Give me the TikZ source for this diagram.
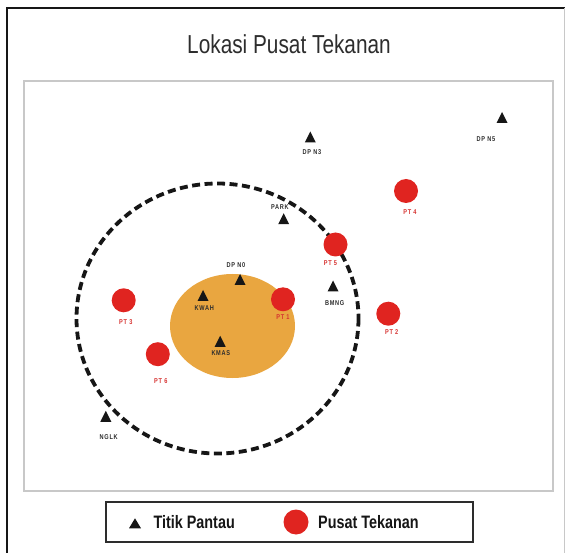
\documentclass[tikz,border=0pt]{standalone}
\usepackage{fontspec}
\setmainfont{Liberation Sans}
\newfontfamily\titlefont[FakeStretch=0.8]{Liberation Sans}
\newfontfamily\lblfont[FakeStretch=0.8,LetterSpace=10]{Liberation Sans}
\newfontfamily\legfont[FakeStretch=0.8]{Liberation Sans}
\definecolor{ptred}{RGB}{224,36,32}
\definecolor{zoneor}{RGB}{233,166,64}
\definecolor{tricol}{RGB}{22,22,22}
\definecolor{lblgray}{RGB}{45,45,45}
\definecolor{lblred}{RGB}{214,50,48}
\definecolor{framegray}{RGB}{200,200,200}
\begin{document}
\begin{tikzpicture}[x=1pt,y=-1pt,
  tri/.pic={\fill[tricol] (0,-5.5) -- (5.5,5.5) -- (-5.5,5.5) -- cycle;},
  legtri/.pic={\fill[tricol] (0,-5) -- (6,5) -- (-6,5) -- cycle;},
  ptc/.style={circle,fill=ptred,minimum size=24pt,inner sep=0pt},
  lbk/.style={font=\lblfont\bfseries\fontsize{7}{8}\selectfont,text=lblgray,inner sep=0pt},
  lbr/.style={lbk,text=lblred},
  legtext/.style={font=\legfont\bfseries\fontsize{18}{20}\selectfont,text=tricol,inner sep=0pt,anchor=base west},
]
\useasboundingbox (0,0) rectangle (565,553);
% outer frame
\draw[line width=2.3pt,tricol] (7.2,560) -- (7.2,7.8) -- (570,7.8);
\draw[line width=0.8pt,framegray] (564,8) -- (564,553);
% title
\node[font=\titlefont\fontsize{26}{28}\selectfont,text=lblgray,inner sep=0pt,anchor=base] (title) at (289,54) {Lokasi Pusat Tekanan};
% map frame
\draw[line width=1.2pt,framegray] (24,81) rectangle (553,491);
% zones
\fill[zoneor] (232.5,326) ellipse [x radius=62.5, y radius=52];
\draw[line width=3.8pt,tricol,dash pattern=on 8pt off 4.5pt] (217.5,318.5) ellipse [x radius=141, y radius=135];
% stations
\coordinate (dpn5) at (502,117.5);   \pic at (dpn5) {tri};
\node[lbk] (dpn5-l) at (486,139) {DP N5};
\coordinate (dpn3) at (310.3,137);   \pic at (dpn3) {tri};
\node[lbk] (dpn3-l) at (312,152.3) {DP N3};
\coordinate (park) at (283.7,218.7); \pic at (park) {tri};
\node[lbk] (park-l) at (280,206.7) {PARK};
\coordinate (dpn0) at (240,279.5);   \pic at (dpn0) {tri};
\node[lbk] (dpn0-l) at (236,265) {DP N0};
\coordinate (kwah) at (203,295.5);   \pic at (kwah) {tri};
\node[lbk] (kwah-l) at (204.2,308.3) {KWAH};
\coordinate (kmas) at (220.2,341.3); \pic at (kmas) {tri};
\node[lbk] (kmas-l) at (220.8,353.3) {KMAS};
\coordinate (bmng) at (333,286);     \pic at (bmng) {tri};
\node[lbk] (bmng-l) at (334.7,303.3) {BMNG};
\coordinate (nglk) at (105.8,416.3); \pic at (nglk) {tri};
\node[lbk] (nglk-l) at (108.7,436.7) {NGLK};
% pressure centres
\node[ptc] (pt1) at (283,299.3) {};
\node[lbr] (pt1-l) at (283,317.3) {PT 1};
\node[ptc] (pt2) at (388.3,313.7) {};
\node[lbr] (pt2-l) at (391.7,331.7) {PT 2};
\node[ptc] (pt3) at (123.7,300.3) {};
\node[lbr] (pt3-l) at (125.8,321.7) {PT 3};
\node[ptc] (pt4) at (406,191) {};
\node[lbr] (pt4-l) at (410,211.7) {PT 4};
\node[ptc] (pt5) at (335.5,244.5) {};
\node[lbr] (pt5-l) at (330.5,263) {PT 5};
\node[ptc] (pt6) at (157.8,354.2) {};
\node[lbr] (pt6-l) at (160.8,381) {PT 6};
% legend
\draw[line width=2pt,lblgray] (106,502) rectangle (473,542);
\coordinate (leg-tri) at (135,523.3); \pic at (leg-tri) {legtri};
\node[legtext] (leg-tri-l) at (153.3,528.3) {Titik Pantau};
\node[ptc,minimum size=25pt] (leg-pt) at (296,522) {};
\node[legtext] (leg-pt-l) at (318,528.3) {Pusat Tekanan};
\end{tikzpicture}
\end{document}
